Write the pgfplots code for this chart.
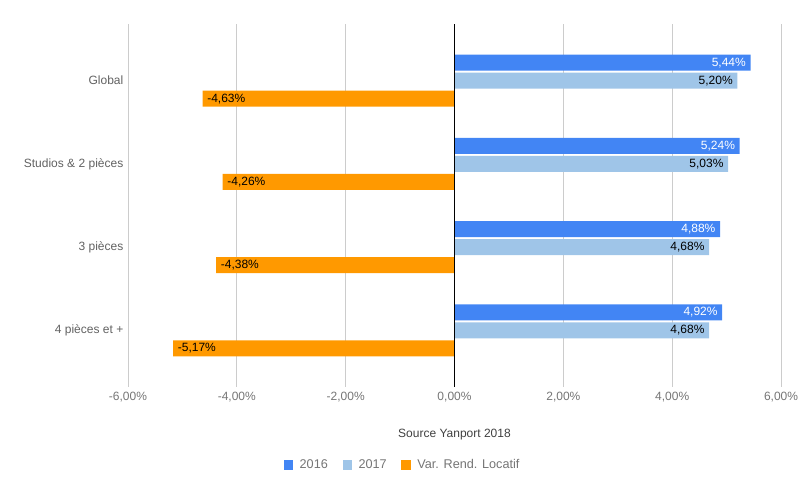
\documentclass[border=0pt]{standalone}
\usepackage{pgfplots}
\pgfplotsset{compat=1.18}
\usepackage{fontspec}
\setmainfont{Liberation Sans}
\definecolor{c16}{HTML}{4285F4}
\definecolor{c17}{HTML}{9FC5E8}
\definecolor{cvar}{HTML}{FF9900}
\definecolor{tickgray}{HTML}{757575}
\definecolor{labgray}{HTML}{616161}
\definecolor{gridgray}{HTML}{CCCCCC}
\begin{document}
\begin{tikzpicture}[x=1pt,y=1pt]
\useasboundingbox (-96,-83.25) rectangle (508.5,290.25);
\begin{axis}[
  at={(0,0)}, anchor=south west,
  width=489.75pt, height=272.25pt, scale only axis,
  xbar,
  xmin=-6, xmax=6, ymin=-0.68, ymax=3.68,
  xtick={-6,-4,...,6},
  ytick={0,1,2,3},
  yticklabels={4 pièces et +, 3 pièces, Studios \& 2 pièces, Global},
  /pgf/number format/assume math mode=true,
  /pgf/number format/use comma,
  /pgf/number format/fixed,
  /pgf/number format/fixed zerofill,
  /pgf/number format/precision=2,
  xticklabel={\pgfmathprintnumber{\tick}\%},
  xticklabel style={text=tickgray, font=\fontsize{9}{10}\selectfont},
  yticklabel style={text=labgray, font=\fontsize{9}{10}\selectfont},
  xmajorgrids, grid style={gridgray, line width=0.6pt},
  axis line style={draw=none},
  major tick length=0pt,
  xlabel={Source Yanport 2018},
  xlabel style={at={(axis description cs:0.5,-0.13)}, anchor=center, text=black!75, font=\fontsize{9}{10}\selectfont},
  bar width=12pt,
  nodes near coords={\pgfmathprintnumber{\pgfplotspointmeta}\%},
  nodes near coords align=horizontal,
  legend columns=3,
  legend style={at={(0.421,-0.215)}, anchor=center, draw=none, fill=none,
    font=\fontsize{9.5}{10}\selectfont, text=tickgray,
    /tikz/every odd column/.append style={column sep=3pt},
    /tikz/every even column/.append style={column sep=9pt}},
  legend image code/.code={\fill[#1,draw=none] (0pt,-3.6pt) rectangle (7pt,3.9pt);},
]
\addplot[fill=c16, draw=none, bar shift=13.5pt,
  every node near coord/.append style={anchor=east, text=white, font=\fontsize{9}{10}\selectfont}]
  coordinates {(5.44,3) (5.24,2) (4.88,1) (4.92,0)};
\addlegendentry{2016}
\addplot[fill=c17, draw=none, bar shift=0pt,
  every node near coord/.append style={anchor=east, text=black, font=\fontsize{9}{10}\selectfont}]
  coordinates {(5.20,3) (5.03,2) (4.68,1) (4.68,0)};
\addlegendentry{2017}
\addplot[fill=cvar, draw=none, bar shift=-13.5pt,
  every node near coord/.append style={anchor=west, text=black, font=\fontsize{9}{10}\selectfont}]
  coordinates {(-4.63,3) (-4.26,2) (-4.38,1) (-5.17,0)};
\addlegendentry{Var. Rend. Locatif}
\draw[black, line width=0.75pt] (axis cs:0,-0.68) -- (axis cs:0,3.68);
\end{axis}
\end{tikzpicture}
\end{document}
